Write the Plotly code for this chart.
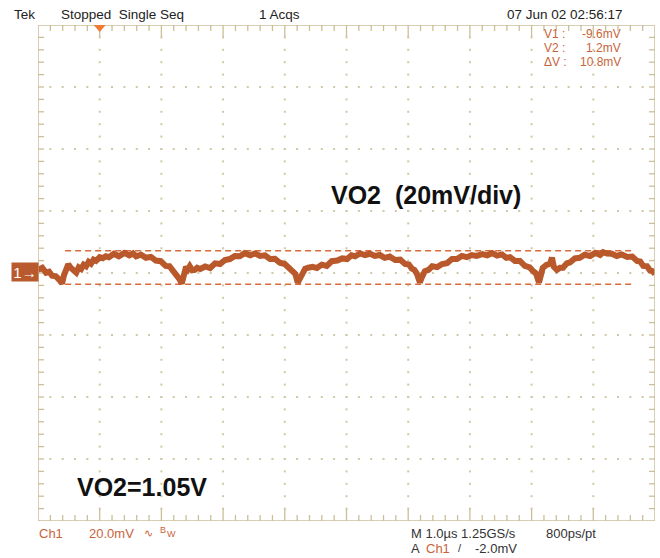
import numpy as np
import plotly.graph_objects as go

# ---------------- data ----------------
time_us = [-1.00, -0.93, -0.87, -0.82, -0.77, -0.71, -0.66, -0.64, -0.61, -0.58,
           -0.55, -0.51, -0.47, -0.42, -0.38, -0.34, -0.30, -0.26, -0.22, -0.18,
           -0.14, -0.10, -0.06, 0.00, 0.05, 0.10, 0.15, 0.23, 0.31, 0.40,
           0.48, 0.54, 0.59, 0.67, 0.75, 0.83, 0.91, 0.99, 1.07, 1.13,
           1.19, 1.24, 1.29, 1.33, 1.37, 1.40, 1.43, 1.46, 1.50, 1.54,
           1.58, 1.63, 1.71, 1.79, 1.87, 1.95, 2.03, 2.11, 2.19, 2.27,
           2.35, 2.44, 2.52, 2.60, 2.68, 2.76, 2.84, 2.92, 3.00, 3.08,
           3.13, 3.17, 3.21, 3.25, 3.29, 3.33, 3.38, 3.45, 3.52, 3.60,
           3.68, 3.76, 3.85, 3.93, 4.01, 4.08, 4.14, 4.22, 4.30, 4.38,
           4.46, 4.54, 4.62, 4.70, 4.79, 4.87, 4.95, 5.01, 5.06, 5.10,
           5.14, 5.19, 5.22, 5.27, 5.33, 5.39, 5.47, 5.55, 5.63, 5.71,
           5.79, 5.87, 5.95, 6.03, 6.11, 6.20, 6.28, 6.36, 6.44, 6.52,
           6.59, 6.65, 6.73, 6.81, 6.89, 6.97, 7.03, 7.07, 7.12, 7.15,
           7.18, 7.24, 7.30, 7.33, 7.36, 7.41, 7.46, 7.51, 7.57, 7.62,
           7.70, 7.78, 7.86, 7.95, 8.03, 8.11, 8.16, 8.22, 8.30, 8.38,
           8.46, 8.55, 8.63, 8.71, 8.76, 8.81, 8.87, 8.92, 8.96, 9.00]

vo2_mv = [-5.0, -4.3, -5.9, -5.6, -6.9, -7.1, -8.1, -8.6, -9.4, -6.8,
          -4.4, -3.2, -4.3, -4.9, -5.9, -4.2, -4.7, -3.3, -3.8, -2.4,
          -3.0, -1.7, -2.1, -0.9, -1.2, -0.6, -0.9, 0.2, -0.6, 0.5,
          -0.3, 0.3, -0.6, -0.1, -1.1, -0.8, -2.0, -2.2, -3.7, -3.8,
          -5.3, -6.1, -7.9, -9.4, -6.5, -4.0, -4.8, -3.8, -5.1, -5.0,
          -4.3, -4.7, -3.9, -4.4, -2.9, -3.1, -1.8, -1.5, -0.5, -0.6,
          0.4, -0.3, 0.3, -0.5, -0.3, -1.5, -1.4, -2.7, -3.1, -4.6,
          -5.0, -6.3, -9.1, -7.4, -5.5, -4.6, -4.3, -4.0, -4.4, -3.3,
          -3.7, -2.2, -2.0, -1.3, -1.5, -0.3, -0.6, 0.3, -0.2, 0.2,
          -0.5, -0.2, -1.1, -0.7, -1.8, -1.7, -3.1, -3.3, -4.6, -5.0,
          -6.2, -9.1, -7.4, -5.4, -5.0, -3.8, -4.1, -3.1, -2.8, -1.5,
          -1.5, -0.5, -0.9, -0.2, -0.5, 0.1, -0.3, 0.4, -0.4, 0.0,
          -1.1, -0.9, -2.1, -2.1, -3.7, -4.2, -5.5, -6.1, -9.1, -7.1,
          -4.4, -3.4, -3.0, -1.0, -4.0, -5.0, -4.3, -4.3, -2.9, -2.6,
          -1.3, -1.1, -0.1, -0.5, 0.5, -0.2, 0.7, 0.3, 0.2, -0.5,
          0.0, -0.8, -0.7, -2.1, -2.3, -3.7, -3.8, -5.2, -5.4, -6.3]

assert len(time_us) == len(vo2_mv)

cursor_v1_mv = -9.6
cursor_v2_mv = 1.2
cursor_t_start = -0.56
cursor_t_end = 8.64

# axis frame: 10 div x 1 us, 8 div x 20 mV
T_MIN, T_MAX = -1.0, 9.0
V_MIN, V_MAX = -86.0, 74.0
V_DIV = 20.0

# ---------------- styling ----------------
TRACE = "#b9582b"
CURSOR = "#d86a3a"
ORANGE_TXT = "#c8643a"
FRAME = "#cbbf98"
DOT = "#cfc8a6"
FONT = "Liberation Sans, Arial, sans-serif"

W, H = 660, 558
L, R, T, B = 38, 5, 25, 37
PW, PH = W - L - R, H - T - B
px_t = (T_MAX - T_MIN) / PW      # us per pixel
px_v = (V_MAX - V_MIN) / PH      # mV per pixel


def paper(xpx, ypx):
    return (xpx - L) / PW, (H - B - ypx) / PH


fig = go.Figure()

# graticule dots
dx, dy = [], []
for tv in np.arange(T_MIN + 1, T_MAX - 0.5, 1.0):
    for vv in np.arange(V_MIN + V_DIV / 5, V_MAX - 0.1, V_DIV / 5):
        dx.append(tv); dy.append(vv)
for vv in np.arange(V_MIN + V_DIV, V_MAX - 1, V_DIV):
    for tv in np.arange(T_MIN + 0.2, T_MAX - 0.01, 0.2):
        dx.append(tv); dy.append(vv)
fig.add_trace(go.Scatter(x=dx, y=dy, mode="markers",
                         marker=dict(symbol="square", size=2, color=DOT, line=dict(width=0)),
                         hoverinfo="skip", showlegend=False))

# border ticks
tx, ty = [], []
for k, tv in enumerate(np.arange(T_MIN, T_MAX + 0.001, 0.2)):
    if k == 0 or abs(tv - T_MAX) < 1e-6:
        continue
    major = abs(tv - round(tv)) < 1e-6
    ln = (12 if major else 6) * px_v
    tx += [tv, tv, None, tv, tv, None]
    ty += [V_MAX, V_MAX - ln, None, V_MIN, V_MIN + ln, None]
for k, vv in enumerate(np.arange(V_MIN, V_MAX + 0.001, V_DIV / 5)):
    if k == 0 or abs(vv - V_MAX) < 1e-6:
        continue
    ln = 6 * px_t
    tx += [T_MIN, T_MIN + ln, None, T_MAX, T_MAX - ln, None]
    ty += [vv, vv, None, vv, vv, None]
fig.add_trace(go.Scatter(x=tx, y=ty, mode="lines", line=dict(color=FRAME, width=1.3),
                         hoverinfo="skip", showlegend=False))

# cursors
for cv in (cursor_v2_mv, cursor_v1_mv):
    fig.add_trace(go.Scatter(x=[cursor_t_start, cursor_t_end], y=[cv, cv], mode="lines",
                             line=dict(color=CURSOR, width=1.5, dash="6px,4px"),
                             hoverinfo="skip", showlegend=False))

# waveform
fig.add_trace(go.Scatter(x=time_us, y=vo2_mv, mode="lines",
                         line=dict(color=TRACE, width=6, shape="linear"),
                         showlegend=False))

# frame and trigger marker
fig.add_shape(type="rect", x0=T_MIN, x1=T_MAX, y0=V_MIN, y1=V_MAX,
              line=dict(color=FRAME, width=1.5), layer="above")
hw = 6 * px_t
fig.add_shape(type="path",
              path=f"M {-hw},{V_MAX} L {hw},{V_MAX} L 0,{V_MAX - 7 * px_v} Z",
              fillcolor="#f07a30", line=dict(width=0), layer="above")


def txt(s, xpx, ypx, size=13, color="#222222", xanchor="left", bold=False):
    x, y = paper(xpx, ypx)
    fig.add_annotation(x=x, y=y, xref="paper", yref="paper", text=f"<b>{s}</b>" if bold else s,
                       showarrow=False, xanchor=xanchor, yanchor="middle",
                       font=dict(family=FONT, size=size, color=color))


# top status line
txt("Tek", 12, 15, 13.5)
txt("Stopped  Single Seq", 59, 15, 13.5)
txt("1 Acqs", 257, 15, 13.5)
txt("07 Jun 02 02:56:17", 505, 15, 13.5)

# cursor readout
txt("V1 :", 542, 34, 12, ORANGE_TXT)
txt("V2 :", 542, 48, 12, ORANGE_TXT)
txt("ΔV :", 542, 62, 12, ORANGE_TXT)
txt("-9.6mV", 623, 34, 12, ORANGE_TXT, "right")
txt("1.2mV", 623, 48, 12, ORANGE_TXT, "right")
txt("10.8mV", 623, 62, 12, ORANGE_TXT, "right")

# big labels
txt("VO2  (20mV/div)", 426, 195, 25, "#111111", "center", True)
txt("VO2=1.05V", 142, 487, 25, "#111111", "center", True)

# bottom status lines
txt("Ch1", 37, 533, 13, ORANGE_TXT)
txt("20.0mV", 87, 533, 13, ORANGE_TXT)
txt("∿", 142, 533, 11, ORANGE_TXT)
txt("B", 158, 530, 9, ORANGE_TXT)
txt("W", 165, 534, 9, ORANGE_TXT)
txt("M 1.0µs 1.25GS/s", 409, 533, 13, "#333333")
txt("800ps/pt", 544, 533, 13, "#333333")
txt("A", 409, 548, 13, "#333333")
txt("Ch1", 424, 548, 13, ORANGE_TXT)
txt("/", 456, 548, 11, "#333333")
txt("-2.0mV", 473, 548, 13, "#333333")

# channel 1 ground marker
mx, my = paper(25, 272)
fig.add_annotation(x=mx, y=my, xref="paper", yref="paper", text="1→", showarrow=False,
                   xanchor="center", yanchor="middle", width=24, height=16, borderpad=1,
                   bgcolor="#b85a2e", font=dict(family=FONT, size=15, color="white"))

fig.update_xaxes(range=[T_MIN, T_MAX], visible=False, showgrid=False, zeroline=False)
fig.update_yaxes(range=[V_MIN, V_MAX], visible=False, showgrid=False, zeroline=False)
fig.update_layout(width=W, height=H, margin=dict(l=L, r=R, t=T, b=B),
                  plot_bgcolor="white", paper_bgcolor="white", showlegend=False)

fig.write_html("out.html", config={"displayModeBar": False},
               post_script="document.body.style.margin='0';")
